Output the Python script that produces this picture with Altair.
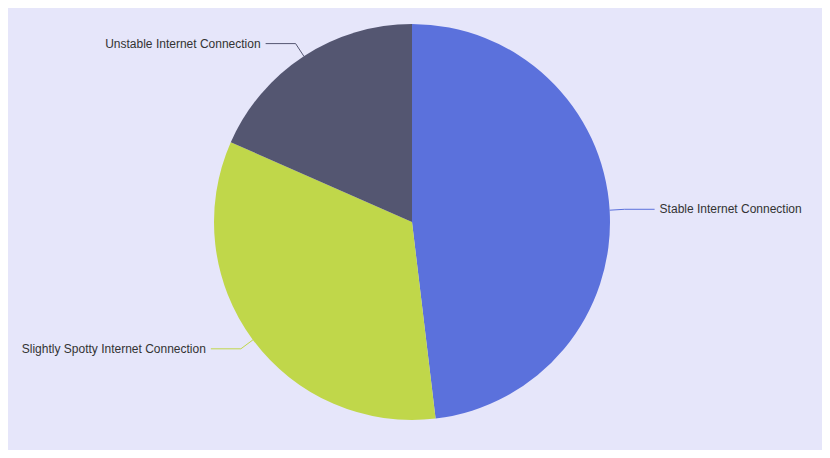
import altair as alt
import pandas as pd

categories = ["Stable Internet Connection", "Slightly Spotty Internet Connection", "Unstable Internet Connection"]
values = [48.1, 33.5, 18.4]
orders = [0, 1, 2]
colors = ["#5B71DC", "#C0D74A", "#545671"]

df = pd.DataFrame({"category": categories, "value": values, "order": orders})

CX, CY, R = 404, 214, 198
L1, L2, GAP = 15, 30, 5

base = alt.Chart(df)
color = alt.Color("category:N", scale=alt.Scale(domain=categories, range=colors), legend=None)

pie = base.mark_arc(outerRadius=R).encode(
    theta=alt.Theta("value:Q", stack=True),
    color=color,
    order=alt.Order("order:Q"),
    x=alt.value(CX),
    y=alt.value(CY),
)

geo = (
    base.transform_joinaggregate(total="sum(value)")
    .transform_window(cum="sum(value)", sort=[alt.SortField("order")], frame=[None, 0])
    .transform_calculate(mid="(datum.cum - datum.value/2)/datum.total*2*PI")
    .transform_calculate(ex=f"{CX}+{R}*sin(datum.mid)")
    .transform_calculate(ey=f"{CY}-{R}*cos(datum.mid)")
    .transform_calculate(bx=f"{CX}+{R + L1}*sin(datum.mid)")
    .transform_calculate(by=f"{CY}-{R + L1}*cos(datum.mid)")
    .transform_calculate(side="sin(datum.mid) >= 0 ? 1 : -1")
    .transform_calculate(hx=f"datum.bx + datum.side*{L2}")
    .transform_calculate(tx=f"datum.hx + datum.side*{GAP}")
)

seg1 = geo.mark_rule(strokeWidth=1).encode(
    x=alt.X("ex:Q", scale=None, axis=None),
    y=alt.Y("ey:Q", scale=None, axis=None),
    x2="bx:Q",
    y2="by:Q",
    color=color,
)
seg2 = geo.mark_rule(strokeWidth=1).encode(
    x=alt.X("bx:Q", scale=None, axis=None),
    y=alt.Y("by:Q", scale=None, axis=None),
    x2="hx:Q",
    y2="by:Q",
    color=color,
)

txt_kw = dict(baseline="middle", fontSize=12, font="Liberation Sans", color="#333333")
txt_right = geo.transform_filter("datum.side > 0").mark_text(align="left", **txt_kw).encode(
    x=alt.X("tx:Q", scale=None, axis=None),
    y=alt.Y("by:Q", scale=None, axis=None),
    text="category:N",
)
txt_left = geo.transform_filter("datum.side < 0").mark_text(align="right", **txt_kw).encode(
    x=alt.X("tx:Q", scale=None, axis=None),
    y=alt.Y("by:Q", scale=None, axis=None),
    text="category:N",
)

chart = (
    alt.layer(pie, seg1, seg2, txt_right, txt_left)
    .properties(
        width=814,
        height=442,
        padding=0,
        autosize=alt.AutoSizeParams(type="fit", contains="padding"),
        background="#E6E6FA",
    )
    .configure_view(stroke=None)
)

chart.save("out.html", embed_options={"renderer": "svg", "actions": False})
